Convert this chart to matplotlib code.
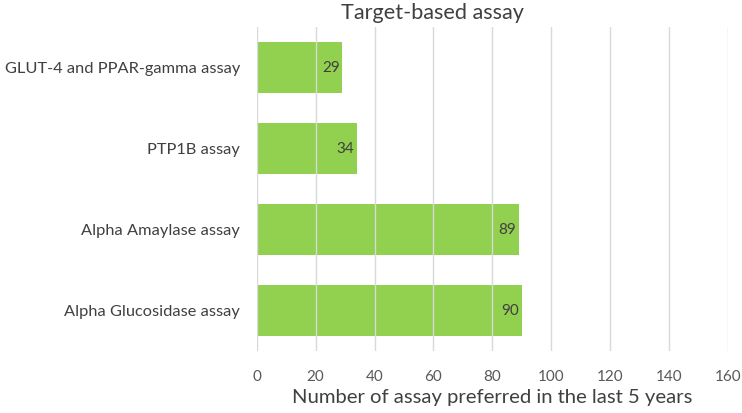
import matplotlib
matplotlib.use("Agg")
import matplotlib.pyplot as plt

categories = ["Alpha Glucosidase assay", "Alpha Amaylase assay", "PTP1B assay", "GLUT-4 and PPAR-gamma assay"]
values = [90, 89, 34, 29]
xticks = [0, 20, 40, 60, 80, 100, 120, 140, 160]

plt.rcParams['font.family'] = ['Lato', 'DejaVu Sans']

fig = plt.figure(figsize=(7.42, 4.13), dpi=100)
ax = fig.add_axes([0.346, 0.149, 0.635, 0.785])

ypos = list(range(len(categories)))
bars = ax.barh(ypos, values, height=0.63, color="#92D050", zorder=2)
for y, v in zip(ypos, values):
    ax.text(v - 0.8, y, str(v), ha="right", va="center", fontsize=11, color="#404040", zorder=4)

ax.set_xlim(0, 160)
ax.set_ylim(-0.5, 3.5)
ax.set_xticks(xticks)
ax.set_yticks(ypos)
ax.set_yticklabels(categories, fontsize=11.8, color="#404040")
ax.tick_params(axis="x", labelsize=11, labelcolor="#595959", length=0, pad=13)
ax.tick_params(axis="y", length=0, pad=12)
ax.grid(axis="x", color="#D9D9D9", linewidth=1.0, zorder=3)
ax.set_axisbelow(False)
for s in ax.spines.values():
    s.set_visible(False)
ax.set_xlabel("Number of assay preferred in the last 5 years", fontsize=14.6, color="#404040", labelpad=4)

fig.text(0.583, 0.968, "Target-based assay", ha="center", va="center", fontsize=15.6, color="#404040")

fig.savefig("out.png", dpi=100)
